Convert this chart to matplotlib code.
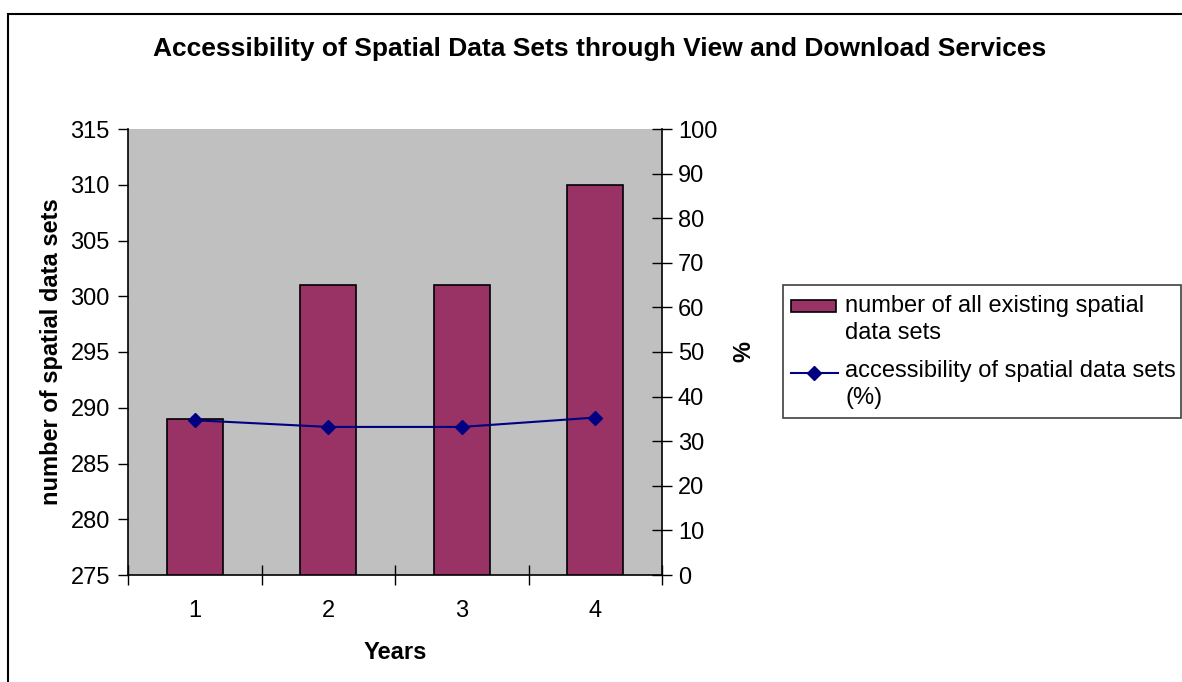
import matplotlib
matplotlib.use("Agg")
import matplotlib.pyplot as plt
from matplotlib.patches import Rectangle
from matplotlib.lines import Line2D

plt.rcParams['font.family'] = ['Liberation Sans', 'DejaVu Sans']

years = [1, 2, 3, 4]
datasets = [289, 301, 301, 310]
access_pct = [34.7, 33.2, 33.2, 35.3]
left_ticks = [275, 280, 285, 290, 295, 300, 305, 310, 315]
right_ticks = [0, 10, 20, 30, 40, 50, 60, 70, 80, 90, 100]

title = "Accessibility of Spatial Data Sets through View and Download Services"
bar_label = ["number of all existing spatial", "data sets"]
line_label = ["accessibility of spatial data sets", "(%)"]

BAR_C = '#993366'
LINE_C = '#000080'
FS = 17

W, H = 1182, 682
fig = plt.figure(figsize=(W / 100, H / 100), dpi=100)
fig.patch.set_facecolor('white')


def fx(px):
    return px / W


def fy(py):
    return (H - py) / H


# outer frame
fig.patches.append(Rectangle((fx(8), -0.05), 1.2, fy(14) + 0.05,
                             transform=fig.transFigure, fill=False,
                             edgecolor='black', linewidth=1.5, zorder=0))

ax = fig.add_axes([fx(128), fy(575), 534 / W, 446 / H])
ax.set_facecolor('#C0C0C0')
ax.bar(years, datasets, width=0.42, color=BAR_C, edgecolor='black',
       linewidth=1.2, zorder=2)
ax.set_xlim(0.5, 4.5)
ax.set_ylim(275, 315)
ax.set_yticks(left_ticks)
ax.set_xticks(years)
ax.set_xticks([0.5, 1.5, 2.5, 3.5, 4.5], minor=True)
ax.tick_params(axis='x', which='major', length=0, pad=18, labelsize=FS)
ax.tick_params(axis='x', which='minor', length=14, direction='inout', width=1)
ax.tick_params(axis='y', length=7, direction='out', width=1, labelsize=FS, pad=6)
for s in ['top', 'right']:
    ax.spines[s].set_visible(False)
ax.spines['left'].set_linewidth(1.2)
ax.spines['bottom'].set_linewidth(1.2)
ax.set_xlabel("Years", fontsize=FS, fontweight='bold', labelpad=14)
ax.set_ylabel("number of spatial data sets", fontsize=FS, fontweight='bold', labelpad=5)

ax2 = ax.twinx()
ax2.plot(years, access_pct, color=LINE_C, marker='D', markersize=7,
         linewidth=1.5, zorder=3)
ax2.set_ylim(0, 100)
ax2.set_yticks(right_ticks)
ax2.tick_params(axis='y', length=14, direction='inout', width=1, labelsize=FS, pad=4.5)
for s in ['top', 'left', 'bottom']:
    ax2.spines[s].set_visible(False)
ax2.spines['right'].set_linewidth(1.2)
ax2.set_ylabel("%", fontsize=FS, fontweight='bold', labelpad=11)

fig.text(fx(600), fy(56), title, ha='center', va='baseline',
         fontsize=19, fontweight='bold')

# legend (drawn by hand so the key sits on the first text line)
fig.patches.append(Rectangle((fx(783), fy(418)), fx(1181) - fx(783), fy(285) - fy(418),
                             transform=fig.transFigure, facecolor='white',
                             edgecolor='#404040', linewidth=1.2, zorder=1))
fig.patches.append(Rectangle((fx(791), fy(312)), fx(836) - fx(791), fy(300) - fy(312),
                             transform=fig.transFigure, facecolor=BAR_C,
                             edgecolor='black', linewidth=1.2, zorder=2))
fig.lines.append(Line2D([fx(791), fx(838)], [fy(373), fy(373)],
                        transform=fig.transFigure, color=LINE_C, linewidth=1.5, zorder=2))
fig.lines.append(Line2D([fx(814)], [fy(373)], transform=fig.transFigure,
                        color=LINE_C, marker='D', markersize=7, zorder=3))
for txt, base in zip(bar_label + line_label, [312, 339, 377, 404]):
    fig.text(fx(845), fy(base), txt, ha='left', va='baseline', fontsize=FS, zorder=3)

fig.savefig("out.png", dpi=100)
